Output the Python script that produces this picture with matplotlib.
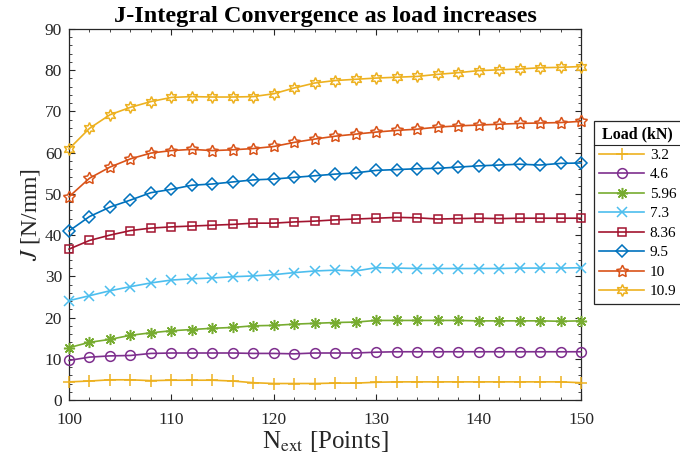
import matplotlib
matplotlib.use("Agg")
import matplotlib.pyplot as plt
from matplotlib.lines import Line2D
from matplotlib.ticker import MultipleLocator

plt.rcParams["font.family"] = ["Liberation Serif", "DejaVu Serif"]
plt.rcParams["mathtext.fontset"] = "stix"

# Number of extrapolation points
n_ext = [100, 102, 104, 106, 108, 110, 112, 114, 116, 118, 120, 122, 124,
         126, 128, 130, 132, 134, 136, 138, 140, 142, 144, 146, 148, 150]

# J-integral values [N/mm] per load level
j_3_2 = [4.4, 4.6, 4.9, 4.9, 4.7, 4.8, 4.8, 4.8, 4.6, 4.2, 4.0, 4.0, 4.0,
         4.1, 4.1, 4.3, 4.4, 4.4, 4.4, 4.4, 4.4, 4.4, 4.4, 4.4, 4.4, 4.2]
j_4_6 = [9.6, 10.4, 10.7, 10.8, 11.3, 11.4, 11.4, 11.4, 11.4, 11.3, 11.3, 11.2, 11.4,
         11.4, 11.4, 11.6, 11.7, 11.7, 11.7, 11.7, 11.7, 11.7, 11.7, 11.7, 11.7, 11.7]
j_5_96 = [12.7, 14.0, 14.7, 15.7, 16.3, 16.8, 17.1, 17.4, 17.6, 18.0, 18.1, 18.4, 18.6,
          18.8, 18.9, 19.3, 19.3, 19.3, 19.3, 19.3, 19.2, 19.2, 19.2, 19.2, 19.1, 19.2]
j_7_3 = [24.1, 25.3, 26.5, 27.5, 28.4, 29.1, 29.4, 29.6, 29.9, 30.1, 30.4, 30.9, 31.3,
         31.5, 31.3, 32.1, 32.0, 31.9, 31.9, 31.9, 31.9, 31.9, 32.0, 32.0, 32.0, 32.1]
j_8_36 = [36.6, 38.7, 40.0, 41.1, 41.7, 42.0, 42.2, 42.4, 42.6, 42.9, 42.9, 43.2, 43.4,
          43.7, 43.9, 44.1, 44.3, 44.2, 43.9, 44.0, 44.1, 44.0, 44.1, 44.1, 44.1, 44.1]
j_9_5 = [41.0, 44.5, 46.8, 48.5, 50.3, 51.1, 52.1, 52.4, 52.9, 53.4, 53.6, 54.0, 54.4,
         54.8, 55.1, 55.7, 55.9, 56.1, 56.2, 56.5, 56.8, 57.0, 57.2, 57.0, 57.4, 57.5]
j_10 = [49.3, 53.8, 56.5, 58.5, 59.9, 60.5, 60.8, 60.5, 60.7, 61.0, 61.5, 62.5, 63.3,
        64.0, 64.5, 65.0, 65.4, 65.7, 66.2, 66.5, 66.7, 66.9, 67.1, 67.2, 67.3, 67.6]
j_10_9 = [60.9, 65.9, 69.2, 71.0, 72.4, 73.4, 73.6, 73.5, 73.5, 73.6, 74.3, 75.7, 76.9,
          77.5, 77.8, 78.1, 78.3, 78.5, 79.0, 79.4, 79.9, 80.1, 80.3, 80.6, 80.7, 80.9]

load_labels = ["3.2", "4.6", "5.96", "7.3", "8.36", "9.5", "10", "10.9"]
series = [j_3_2, j_4_6, j_5_96, j_7_3, j_8_36, j_9_5, j_10, j_10_9]

colors = ["#EDB120", "#7E2F8E", "#77AC30", "#4DBEEE",
          "#A2142F", "#0072BD", "#D95319", "#EDB120"]
markers = ["+", "o", (8, 2, 0), "x", "s", "D", (5, 1, 0), (6, 1, 0)]
msizes = [8, 7, 8, 6.5, 6, 6, 9, 8.5]

fig = plt.figure(figsize=(6.8, 4.66), dpi=100)
ax = fig.add_axes([69 / 680, 1 - 400 / 466, 512 / 680, 371 / 466])

for vals, lab, c, m, ms in zip(series, load_labels, colors, markers, msizes):
    ax.plot(n_ext, vals, color=c, lw=1.2, marker=m, ms=ms,
            mfc="none", mec=c, mew=1.1, label=lab, clip_on=False, zorder=3)

ax.set_xlim(100, 150)
ax.set_ylim(0, 90)
ax.xaxis.set_major_locator(MultipleLocator(10))
ax.xaxis.set_minor_locator(MultipleLocator(2))
ax.yaxis.set_major_locator(MultipleLocator(10))
ax.yaxis.set_minor_locator(MultipleLocator(2))
ax.tick_params(which="both", direction="in", top=True, right=True,
               colors="#262626", labelcolor="#262626")
ax.tick_params(which="major", length=4, width=0.8, labelsize=12.5)
ax.tick_params(axis="x", which="major", pad=9)
ax.tick_params(axis="y", which="major", pad=5)
ax.tick_params(which="minor", length=2.2, width=0.6)
for sp in ax.spines.values():
    sp.set_color("#262626")
    sp.set_linewidth(0.9)

ax.set_xlabel(r"N$_{\mathrm{ext}}$ [Points]", fontsize=18, color="#262626", labelpad=0)
ax.set_ylabel(r"$\mathit{J}$ [N/mm]", fontsize=17, color="#262626", labelpad=2)
ax.set_title("J-Integral Convergence as load increases", fontsize=17.5,
             fontweight="bold", pad=5)

leg = ax.legend(loc="upper left", bbox_to_anchor=(594 / 680, 1 - 121 / 466),
                bbox_transform=fig.transFigure, borderaxespad=0,
                title="Load (kN)", title_fontproperties={"weight": "bold", "size": 11.5},
                fontsize=11, frameon=True, fancybox=False, framealpha=1,
                edgecolor="#262626", handlelength=2.9, handletextpad=0.4,
                labelspacing=0.38, borderpad=0.35)
leg.get_frame().set_linewidth(0.9)

# Separator line under the legend title
fig.canvas.draw()
r = fig.canvas.get_renderer()
lb = leg.get_window_extent(r)
tb = leg.get_title().get_window_extent(r)
ysep = (tb.y0 - 3) / fig.bbox.height
fig.add_artist(Line2D([lb.x0 / fig.bbox.width, lb.x1 / fig.bbox.width], [ysep, ysep],
                      transform=fig.transFigure, color="#262626", lw=0.8))

fig.savefig("out.png", dpi=100)
